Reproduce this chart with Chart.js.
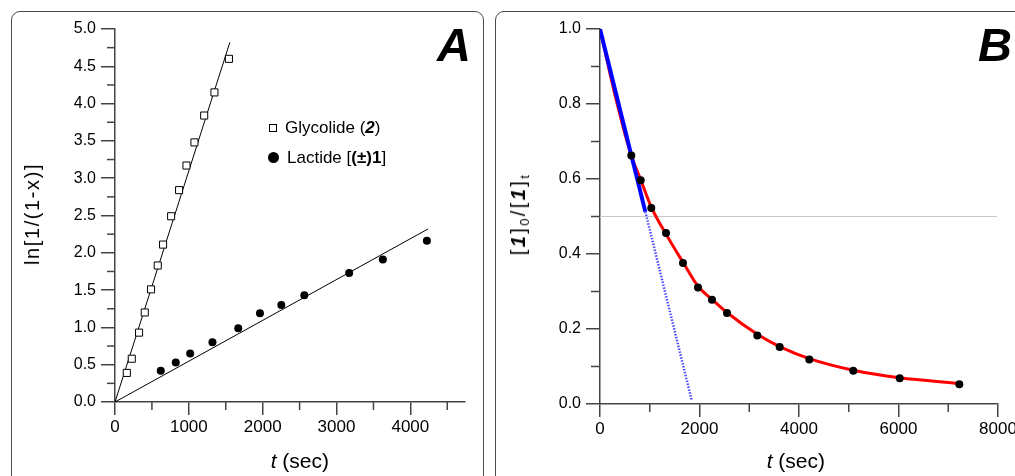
<!DOCTYPE html>
<html><head><meta charset="utf-8">
<script src="https://cdn.jsdelivr.net/npm/chart.js@4"></script>
<style>
html,body{margin:0;padding:0;background:#fff;overflow:hidden;}
body{width:1015px;height:476px;position:relative;font-family:'Liberation Sans',Arial,sans-serif;color:#000;}
.panel{position:absolute;box-sizing:border-box;border:1.5px solid #4a4a4a;border-radius:9px;}
.abs{position:absolute;white-space:nowrap;line-height:1;}
canvas{position:absolute;top:0;}
.sub{font-size:13px;position:relative;top:4px;}
</style></head><body>
<div class="panel" style="left:11px;top:11px;width:473px;height:520px"></div>
<div class="panel" style="left:495px;top:11px;width:560px;height:520px"></div>
<canvas id="ca" width="490" height="476" style="left:0"></canvas>
<canvas id="cb" width="560" height="476" style="left:490px"></canvas>

<div class="abs" style="left:437px;top:21px;font-size:47px;font-weight:bold;font-style:italic">A</div>
<div class="abs" style="left:978px;top:21px;font-size:47px;font-weight:bold;font-style:italic">B</div>

<div style="position:absolute;left:268.6px;top:124.2px;width:8.3px;height:8.3px;border:1px solid #000;box-sizing:border-box;background:#fff"></div>
<div class="abs" style="left:285px;top:119.1px;font-size:17px">Glycolide (<b><i>2</i></b>)</div>
<div style="position:absolute;left:267.8px;top:152.2px;width:11px;height:11px;border-radius:50%;background:#000"></div>
<div class="abs" style="left:287px;top:148.9px;font-size:17px">Lactide [<b>(±)1</b>]</div>

<div class="abs" style="left:32.2px;top:213.7px;transform:translate(-50%,-50%) rotate(-90deg);font-size:20px;letter-spacing:1.6px">ln[1/(1-x)]</div>
<div class="abs" style="left:518px;top:214px;transform:translate(-50%,-50%) rotate(-90deg);font-size:20px;letter-spacing:2.4px">[<b><i>1</i></b>]<span class="sub">0</span>/[<b><i>1</i></b>]<span class="sub">t</span></div>

<div class="abs" style="left:270.7px;top:449.7px;font-size:21px"><i>t</i> (sec)</div>
<div class="abs" style="left:766.7px;top:449.7px;font-size:21px"><i>t</i> (sec)</div>

<script>
// ---------- Panel A data ----------
const glyT = [160, 227, 326, 403, 488, 579, 651, 760, 868, 968, 1076, 1208, 1347, 1543];
const glyY = [0.39, 0.58, 0.93, 1.20, 1.51, 1.83, 2.11, 2.49, 2.84, 3.17, 3.48, 3.84, 4.15, 4.60];
const lacT = [620, 823, 1018, 1320, 1669, 1963, 2252, 2564, 3171, 3627, 4224];
const lacY = [0.42, 0.53, 0.65, 0.80, 0.99, 1.19, 1.30, 1.43, 1.73, 1.91, 2.16];
const glyFitT = [0, 1555];
const glyFitY = [0, 4.82];
const lacFitT = [0, 4240];
const lacFitY = [0, 2.32];
const xTicksA = [0, 1000, 2000, 3000, 4000];
const yTicksA = [0.0, 0.5, 1.0, 1.5, 2.0, 2.5, 3.0, 3.5, 4.0, 4.5, 5.0];

// ---------- Panel B data ----------
const decT = [629, 818, 1031, 1327, 1668, 1970, 2251, 2553, 3162, 3612, 4207, 5091, 6024, 7222];
const decY = [0.663, 0.597, 0.523, 0.456, 0.376, 0.311, 0.278, 0.243, 0.183, 0.152, 0.119, 0.089, 0.069, 0.053];
const fitT = [0, 300, 629, 818, 1031, 1327, 1668, 1970, 2251, 2553, 3162, 3612, 4207, 5091, 6024, 7222];
const fitY = [1.0, 0.825, 0.662, 0.598, 0.525, 0.453, 0.378, 0.314, 0.279, 0.244, 0.186, 0.153, 0.121, 0.090, 0.070, 0.055];
const initT = [0, 911];
const initY = [1.0, 0.513];
const extT = [911, 1843];
const extY = [0.513, 0.01];
const halfT = [0, 7980];
const halfY = [0.5, 0.5];
const xTicksB = [0, 2000, 4000, 6000, 8000];
const yTicksB = [0.0, 0.2, 0.4, 0.6, 0.8, 1.0];

const pts = (xs, ys) => xs.map((x, i) => ({x: x, y: ys[i]}));
const AXIS = '#444';
Chart.defaults.font.family = "'Liberation Sans', Arial, sans-serif";
Chart.defaults.color = '#000';

const minorTicks = {
  id: 'minorTicks',
  afterDraw(chart, args, o) {
    const ctx = chart.ctx;
    ctx.save();
    ctx.strokeStyle = AXIS;
    ctx.lineWidth = 1.5;
    const xs = chart.scales.x, ys = chart.scales.y;
    const isMajor = (v, majors) => majors.some(m => Math.abs(m - v) < 1e-6);
    const nx = Math.floor((xs.max - xs.min) / o.xStep + 1e-6);
    for (let i = 0; i <= nx; i++) {
      const v = xs.min + i * o.xStep;
      if (isMajor(v, o.xMajor)) continue;
      const p = xs.getPixelForValue(v);
      ctx.beginPath(); ctx.moveTo(p, xs.top); ctx.lineTo(p, xs.top + o.xLen); ctx.stroke();
    }
    const ny = Math.floor((ys.max - ys.min) / o.yStep + 1e-6);
    for (let i = 0; i <= ny; i++) {
      const v = ys.min + i * o.yStep;
      if (isMajor(v, o.yMajor)) continue;
      const p = ys.getPixelForValue(v);
      ctx.beginPath(); ctx.moveTo(ys.right - o.yLen, p); ctx.lineTo(ys.right, p); ctx.stroke();
    }
    ctx.restore();
  }
};

function axis(min, max, ticksArr, isX, fitSize, fmt) {
  return {
    type: 'linear', min: min, max: max,
    afterBuildTicks: a => { a.ticks = ticksArr.map(v => ({value: v})); },
    afterFit: s => { if (isX) s.height = fitSize; else s.width = fitSize; },
    grid: {drawOnChartArea: false, drawTicks: true, tickLength: isX ? 13 : 14, color: AXIS, lineWidth: 1.5},
    border: {display: true, color: AXIS, width: 1.5},
    ticks: {padding: isX ? 2 : 5, font: {size: isX ? 17 : 16}, color: '#000', callback: fmt, maxRotation: 0, autoSkip: false}
  };
}

const baseOpts = {
  responsive: false, animation: false, devicePixelRatio: 1, events: [],
  plugins: {legend: {display: false}, tooltip: {enabled: false}}
};

new Chart(document.getElementById('ca'), {
  type: 'scatter',
  data: {datasets: [
    {data: pts(glyFitT, glyFitY), showLine: true, borderColor: '#000', borderWidth: 1, pointRadius: 0, order: 3},
    {data: pts(lacFitT, lacFitY), showLine: true, borderColor: '#000', borderWidth: 1, pointRadius: 0, order: 3},
    {data: pts(glyT, glyY), pointStyle: 'rect', pointRadius: 5, backgroundColor: '#fff', borderColor: '#000', borderWidth: 1, order: 1},
    {data: pts(lacT, lacY), pointStyle: 'circle', pointRadius: 4, backgroundColor: '#000', borderColor: '#000', borderWidth: 0, order: 1}
  ]},
  options: Object.assign({}, baseOpts, {
    layout: {padding: {top: 29, right: 25, bottom: 0, left: 0}},
    plugins: Object.assign({}, baseOpts.plugins, {minorTicks: {xStep: 500, xMajor: xTicksA, xLen: 8, yStep: 0.25, yMajor: yTicksA, yLen: 8}}),
    scales: {
      x: axis(0, 4740, xTicksA, true, 74, v => String(v)),
      y: axis(0, 5, yTicksA, false, 115, v => v.toFixed(1))
    }
  }),
  plugins: [minorTicks]
});

new Chart(document.getElementById('cb'), {
  type: 'scatter',
  data: {datasets: [
    {data: pts(halfT, halfY), showLine: true, borderColor: '#c8c8c8', borderWidth: 1, pointRadius: 0, order: 5},
    {data: pts(extT, extY), showLine: true, borderColor: '#4b4bff', borderWidth: 2.5, borderDash: [1.5, 1.5], pointRadius: 0, order: 4},
    {data: pts(fitT, fitY), showLine: true, borderColor: '#ff0000', borderWidth: 3, cubicInterpolationMode: 'monotone', pointRadius: 0, order: 3},
    {data: pts(initT, initY), showLine: true, borderColor: '#0000ff', borderWidth: 4, pointRadius: 0, order: 2},
    {data: pts(decT, decY), pointStyle: 'circle', pointRadius: 4, backgroundColor: '#000', borderColor: '#000', borderWidth: 0, order: 1}
  ]},
  options: Object.assign({}, baseOpts, {
    layout: {padding: {top: 29, right: 52, bottom: 0, left: 0}},
    plugins: Object.assign({}, baseOpts.plugins, {minorTicks: {xStep: 1000, xMajor: xTicksB, xLen: 8, yStep: 0.1, yMajor: yTicksB, yLen: 9}}),
    scales: {
      x: axis(0, 8000, xTicksB, true, 72, v => String(v)),
      y: axis(0, 1, yTicksB, false, 110, v => v.toFixed(1))
    }
  }),
  plugins: [minorTicks]
});
</script>
</body></html>
